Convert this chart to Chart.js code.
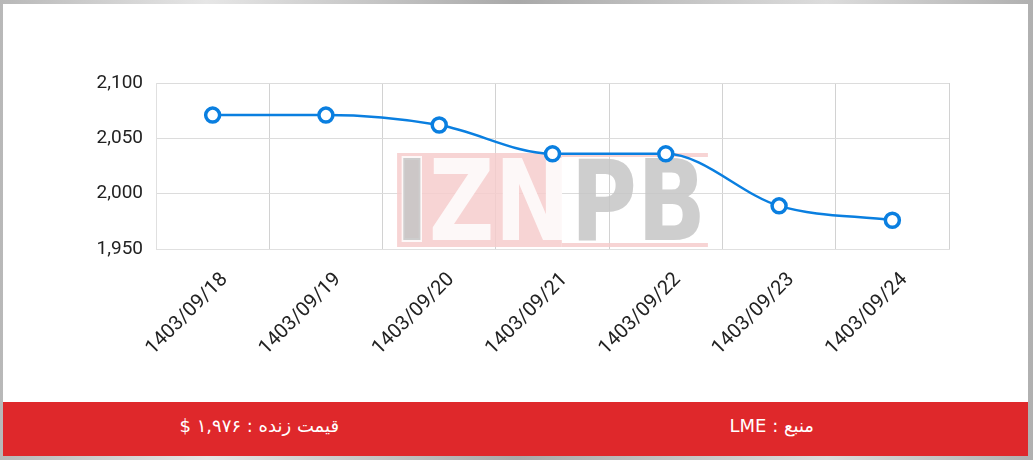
<!DOCTYPE html>
<html lang="fa">
<head>
<meta charset="UTF-8">
<title>LME</title>
<script src="https://cdn.jsdelivr.net/npm/chart.js"></script>
<style>
  html, body { margin: 0; padding: 0; }
  body {
    width: 1033px; height: 460px; overflow: hidden;
    background: linear-gradient(90deg, #b8b8b8, #e6e6e6 20%, #a9a9a9 50%, #dcdcdc 80%, #b0b0b0);
    position: relative;
  }
  .kart {
    position: absolute; left: 3px; top: 4px; width: 1025px; height: 452px;
    background: #fff;
  }
  .nemoodar { position: absolute; left: 0; top: 0; width: 1025px; height: 398px; }
  .nawar {
    position: absolute; left: 0; top: 398px; width: 1025px; height: 54px;
    background: #df282b; color: #fff; display: flex;
    font-family: "DejaVu Sans", "Noto Sans", sans-serif; font-size: 18px;
  }
  .nawar div { flex: 1; text-align: center; line-height: 48px; }
</style>
</head>
<body>
<div class="kart">
  <div class="nemoodar"><canvas id="chartLME"></canvas></div>
  <div class="nawar">
    <div dir="rtl">قیمت زنده : ۱,۹۷۶ $</div>
    <div dir="rtl">منبع : LME</div>
  </div>
</div>

<script>
// tarikh ha va gheymat ha
const tarikh = ["1403/09/18", "1403/09/19", "1403/09/20", "1403/09/21", "1403/09/22", "1403/09/23", "1403/09/24"];
const gheymat = [2071, 2071, 2062, 2036, 2036, 1989, 1976];
const mehvarY = [1950, 2000, 2050, 2100];

// watermark IZNPB posht e nemoodar
const watermark = {
  id: 'watermark',
  beforeDatasetsDraw(chart) {
    const { ctx, chartArea: a } = chart;
    const x0 = a.left + (a.right - a.left) * 0.304;
    const x1 = a.left + (a.right - a.left) * 0.696;
    const y0 = a.top + 70, y1 = a.top + 164;
    const xMid = x0 + (x1 - x0) * 0.53;
    ctx.save();
    ctx.globalAlpha = 0.85;
    ctx.fillStyle = '#f6cccc';
    ctx.fillRect(x0, y0, xMid - x0, y1 - y0);
    ctx.fillRect(xMid, y0, x1 - xMid, 4);
    ctx.fillRect(xMid, y1 - 4, x1 - xMid, 4);
    ctx.font = 'bold 112px "DejaVu Sans", sans-serif';
    ctx.textBaseline = 'alphabetic';
    ctx.translate(x0 - 2, y1 - 7);
    ctx.scale(0.81, 1);
    let x = 0;
    const harf = [['I', '#c6c6c6'], ['Z', '#ffffff'], ['N', '#ffffff'], ['P', '#c6c6c6'], ['B', '#c6c6c6']];
    harf.forEach(function (h) {
      if (h[0] === 'I') {
        ctx.strokeStyle = '#ffffff';
        ctx.lineWidth = 4;
        ctx.strokeText(h[0], x, 0);
      }
      ctx.fillStyle = h[1];
      ctx.fillText(h[0], x, 0);
      x += ctx.measureText(h[0]).width;
    });
    ctx.restore();
  }
};

new Chart(document.getElementById('chartLME'), {
  type: 'line',
  data: {
    labels: tarikh,
    datasets: [{
      data: gheymat,
      borderColor: '#0a7fe0',
      borderWidth: 2.5,
      cubicInterpolationMode: 'monotone',
      pointRadius: 7,
      pointBorderWidth: 3.5,
      pointBackgroundColor: '#ffffff',
      pointBorderColor: '#0a7fe0',
      fill: false
    }]
  },
  options: {
    responsive: true,
    maintainAspectRatio: false,
    animation: false,
    layout: { padding: { top: 79, right: 79, left: 0, bottom: 0 } },
    plugins: { legend: { display: false }, tooltip: { enabled: false } },
    scales: {
      x: {
        offset: true,
        grid: { offset: true, color: '#d2d2d2', drawTicks: false },
        border: { color: '#e0e0e0' },
        ticks: {
          minRotation: 45, maxRotation: 45, padding: 19, labelOffset: 12,
          color: '#222', font: { family: 'Roboto', size: 20 }
        },
        afterFit(scale) { scale.height = 153; }
      },
      y: {
        min: 1950, max: 2100,
        afterBuildTicks(scale) { scale.ticks = mehvarY.map(v => ({ value: v })); },
        grid: { color: '#dcdcdc', drawTicks: false },
        border: { color: '#e0e0e0' },
        ticks: {
          padding: 13, color: '#222', font: { family: 'Roboto', size: 19 },
          callback: v => v.toLocaleString('en-US')
        },
        afterFit(scale) { scale.width = 153; }
      }
    }
  },
  plugins: [watermark]
});
</script>
</body>
</html>
